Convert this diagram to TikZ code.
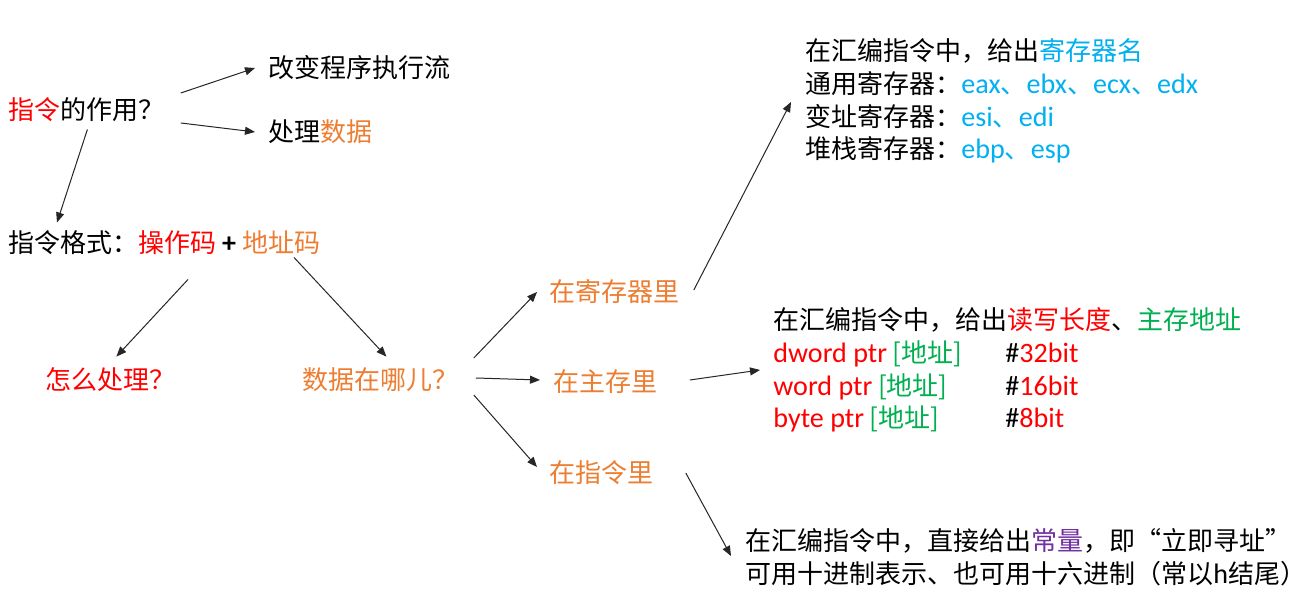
\documentclass[tikz,border=0pt]{standalone}
\usepackage{fontspec}
\setmainfont{Noto Sans CJK SC}
\newfontfamily\lat[Scale=1.08]{Carlito}
\usepackage{xcolor}
\usetikzlibrary{arrows.meta, positioning}
\definecolor{myred}{RGB}{255,0,0}
\definecolor{myorange}{RGB}{237,125,49}
\definecolor{myblue}{RGB}{0,176,240}
\definecolor{mygreen}{RGB}{0,176,80}
\definecolor{mypurple}{RGB}{112,48,160}

\begin{document}
\begin{tikzpicture}[x=0.5pt,y=-0.5pt,
          txt/.style={anchor=west,inner sep=0pt,
                      font=\fontsize{13}{16.3}\selectfont},
          blk/.style={txt,align=left},
          arr/.style={-{Triangle[length=5pt,width=4pt]},
                      line width=0.5pt,black!85}]
        \useasboundingbox[fill=white] (0,0) rectangle (1316,592);
        % left part
        \node[txt](role) at (8,110){\textcolor{myred}{指令}的作用？};
        \node[txt](flow) at (268,68){改变程序执行流};
        \node[txt](proc) at (268,132){处理\textcolor{myorange}{数据}};
        \node[txt](fmt) at (8,243){指令格式：\textcolor{myred}{操作码}
          {\lat\bfseries +} \textcolor{myorange}{地址码}};
        \node[txt,myred](how) at (45,380){怎么处理？};
        \node[txt,myorange](where) at (302,380){数据在哪儿？};
        % where the data is
        \node[txt,myorange](inreg) at (549,292){在寄存器里};
        \node[txt,myorange](inmem) at (553,382){在主存里};
        \node[txt,myorange](ininst) at (549,473){在指令里};
        % explanations
        \node[blk](regtxt) at (805,101){在汇编指令中，给出\textcolor{myblue}{寄存器名}\\
          通用寄存器：\textcolor{myblue}{{\lat eax}、{\lat ebx}、{\lat ecx}、{\lat edx}}\\
          变址寄存器：\textcolor{myblue}{{\lat esi}、{\lat edi}}\\
          堆栈寄存器：\textcolor{myblue}{{\lat ebp}、{\lat esp}}};
        \node[blk](memtxt) at (773,370){在汇编指令中，给出\textcolor{myred}{读写长度}、\textcolor{mygreen}{主存地址}\\
          \makebox[116pt][l]{\textcolor{myred}{\lat dword ptr} \textcolor{mygreen}{[地址]}}{\lat\#\textcolor{myred}{32bit}}\\
          \makebox[116pt][l]{\textcolor{myred}{\lat word ptr} \textcolor{mygreen}{[地址]}}{\lat\#\textcolor{myred}{16bit}}\\
          \makebox[116pt][l]{\textcolor{myred}{\lat byte ptr} \textcolor{mygreen}{[地址]}}{\lat\#\textcolor{myred}{8bit}}};
        \node[blk](insttxt) at (745,557){在汇编指令中，直接给出\textcolor{mypurple}{常量}，即“立即寻址”\\
          可用十进制表示、也可用十六进制（常以{\lat h}结尾）};
        % arrows
        \draw[arr]([shift={(16,-17)}]role.east)--([shift={(-13,0)}]flow.west);
        \draw[arr]([shift={(16,13)}]role.east)--([shift={(-13,0)}]proc.west);
        \draw[arr]([shift={(1,7)}]role.south)--([shift={(49,-8)}]fmt.north west);
        \draw[arr]([shift={(180,24)}]fmt.south west)--([shift={(6,-11)}]how.north);
        \draw[arr]([shift={(286,2)}]fmt.south west)--([shift={(6,-11)}]where.north);
        \draw[arr]([shift={(15,-22)}]where.east)--([shift={(-12,0)}]inreg.west);
        \draw[arr]([shift={(17,-2)}]where.east)--([shift={(-13,-2)}]inmem.west);
        \draw[arr]([shift={(15,15)}]where.east)--([shift={(-12,-6)}]ininst.west);
        \draw[arr]([shift={(14,-2)}]inreg.east)--([shift={(-14,1)}]regtxt.west);
        \draw[arr]([shift={(32,-2)}]inmem.east)--([shift={(-13,0)}]memtxt.west);
        \draw[arr]([shift={(32,0)}]ininst.east)--([shift={(-14,-1)}]insttxt.west);
      \end{tikzpicture}
\end{document}
